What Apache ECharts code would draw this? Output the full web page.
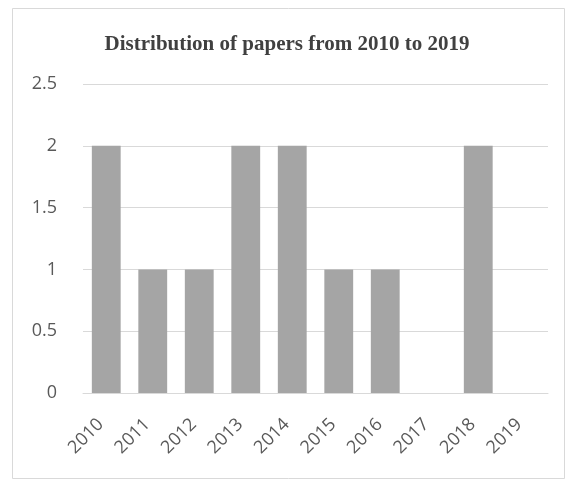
<!DOCTYPE html>
<html>
<head>
<meta charset="utf-8">
<script src="https://cdn.jsdelivr.net/npm/echarts@6/dist/echarts.min.js"></script>
<style>
html,body{margin:0;padding:0;background:#fff;}
#chart{width:574px;height:481px;}
</style>
</head>
<body>
<div id="chart"></div>
<script>
// Papers per year
const years = ['2010','2011','2012','2013','2014','2015','2016','2017','2018','2019'];
const paperCounts = [2, 1, 1, 2, 2, 1, 1, 0, 2, 0];
const yTicks = [0, 0.5, 1, 1.5, 2, 2.5];

const chart = echarts.init(document.getElementById('chart'));
chart.setOption({
  animation: false,
  backgroundColor: '#ffffff',
  title: {
    text: 'Distribution of papers from 2010 to 2019',
    left: 'center',
    top: 29,
    textStyle: {
      fontFamily: 'Liberation Serif',
      fontWeight: 'bold',
      fontSize: 21,
      color: '#404040'
    }
  },
  graphic: [{
    type: 'rect',
    shape: { x: 12.5, y: 8.5, width: 552, height: 470 },
    style: { fill: 'none', stroke: '#d9d9d9', lineWidth: 1 },
    silent: true,
    z: -1
  }],
  grid: { left: 83, right: 26, top: 84, bottom: 88 },
  xAxis: {
    type: 'category',
    data: years,
    axisLine: { lineStyle: { color: '#d9d9d9' } },
    axisTick: { show: false },
    axisLabel: {
      rotate: 45,
      interval: 0,
      margin: 23,
      padding: [0, 8, 0, 0],
      color: '#595959',
      fontFamily: 'Open Sans',
      fontSize: 18
    }
  },
  yAxis: {
    type: 'value',
    min: yTicks[0],
    max: yTicks[yTicks.length - 1],
    interval: 0.5,
    axisLine: { show: false },
    axisTick: { show: false },
    splitLine: { lineStyle: { color: '#d9d9d9' } },
    axisLabel: {
      margin: 26,
      color: '#595959',
      fontFamily: 'Open Sans',
      fontSize: 18
    }
  },
  series: [{
    type: 'bar',
    data: paperCounts,
    barCategoryGap: '38%',
    itemStyle: { color: '#a5a5a5' }
  }]
});
</script>
</body>
</html>
